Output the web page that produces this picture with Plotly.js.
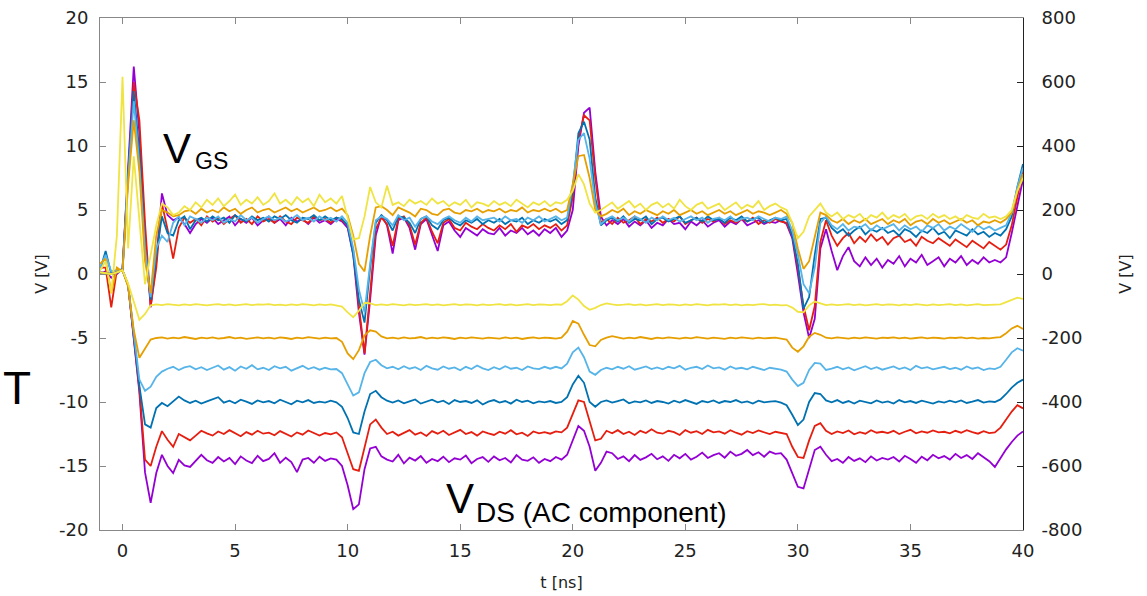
<!DOCTYPE html>
<html>
<head>
<meta charset="utf-8">
<script src="https://cdn.plot.ly/plotly-3.0.1.min.js"></script>
<style>
html,body{margin:0;padding:0;background:#fff;}
#chart{width:1147px;height:596px;}
</style>
</head>
<body>
<div id="chart"></div>
<script>
// time axis [ns]
var t = [
-1,-0.75,-0.5,-0.25,0,0.25,0.5,0.75,1,1.25,
1.5,1.75,2,2.25,2.5,2.75,3,3.25,3.5,3.75,
4,4.25,4.5,4.75,5,5.25,5.5,5.75,6,6.25,
6.5,6.75,7,7.25,7.5,7.75,8,8.25,8.5,8.75,
9,9.25,9.5,9.75,10,10.25,10.5,10.75,11,11.25,
11.5,11.75,12,12.25,12.5,12.75,13,13.25,13.5,13.75,
14,14.25,14.5,14.75,15,15.25,15.5,15.75,16,16.25,
16.5,16.75,17,17.25,17.5,17.75,18,18.25,18.5,18.75,
19,19.25,19.5,19.75,20,20.25,20.5,20.75,21,21.25,
21.5,21.75,22,22.25,22.5,22.75,23,23.25,23.5,23.75,
24,24.25,24.5,24.75,25,25.25,25.5,25.75,26,26.25,
26.5,26.75,27,27.25,27.5,27.75,28,28.25,28.5,28.75,
29,29.25,29.5,29.75,30,30.25,30.5,30.75,31,31.25,
31.5,31.75,32,32.25,32.5,32.75,33,33.25,33.5,33.75,
34,34.25,34.5,34.75,35,35.25,35.5,35.75,36,36.25,
36.5,36.75,37,37.25,37.5,37.75,38,38.25,38.5,38.75,
39,39.25,39.5,39.75,40];

// V_GS [V] (left axis)
var vgsPurple = [
0.0,0.2,-0.3,0.0,0.4,8.0,16.2,11.0,3.0,-2.6,
1.0,6.3,4.6,4.2,4.4,3.9,3.2,3.9,4.3,4.0,
4.4,3.9,4.2,4.5,3.8,4.3,4.0,4.4,3.8,4.2,
4.5,4.0,4.3,3.8,4.4,4.1,4.3,3.9,4.4,4.0,
4.2,3.9,4.3,4.1,3.6,1.5,-3.0,-6.3,-2.0,3.0,
4.6,3.8,1.6,4.2,4.4,3.6,1.9,3.9,4.3,3.0,
1.8,3.8,4.1,3.4,2.9,3.6,3.3,3.0,3.5,3.2,
3.1,3.6,3.0,3.4,3.2,3.6,3.1,3.4,3.0,3.5,
3.2,3.6,2.9,3.4,5.0,10.0,12.6,13.0,8.0,4.5,
3.8,4.2,3.9,4.3,3.7,4.1,3.8,4.2,3.6,4.0,
3.8,4.3,3.9,4.0,3.5,4.1,3.8,4.2,3.7,4.0,
4.2,3.7,4.1,3.9,4.3,3.8,4.0,4.2,3.9,4.1,
4.0,4.2,3.9,2.8,0.0,-3.0,-5.0,-3.5,2.0,3.5,
1.8,0.3,1.4,2.1,1.0,0.6,1.3,0.7,1.2,0.5,
1.1,0.8,1.4,0.6,1.2,0.9,1.5,0.7,1.0,1.3,
0.6,1.2,0.9,1.4,0.7,1.1,0.8,1.3,0.9,1.1,
0.9,1.3,3.2,5.4,7.4];
var vgsRed = [
0.5,0.5,-2.6,0.3,0.3,8.0,15.0,12.0,4.0,-2.5,
0.5,5.5,3.5,1.2,3.6,4.4,4.0,4.3,3.8,4.5,
4.1,4.4,3.9,4.3,4.6,4.0,4.3,3.9,4.5,4.1,
4.3,4.0,4.5,4.1,3.9,4.4,4.2,4.0,4.5,4.2,
4.3,4.0,4.4,4.2,3.8,1.8,-2.5,-6.2,-1.5,3.5,
4.4,3.9,2.2,4.3,4.5,3.8,2.3,4.0,4.4,3.3,
2.4,4.0,4.3,3.6,3.4,4.0,3.7,3.5,3.9,3.6,
3.4,3.8,3.5,3.9,3.3,3.8,3.6,3.9,3.5,3.8,
3.6,3.9,3.4,3.8,6.0,10.5,12.4,12.0,7.5,4.0,
4.3,3.9,4.4,4.0,4.2,4.5,3.9,4.3,4.1,4.4,
4.0,4.3,4.1,4.5,3.9,4.2,4.4,4.0,4.3,4.1,
4.4,3.9,4.2,4.0,4.3,4.1,4.4,3.9,4.2,4.0,
4.3,4.1,4.0,3.0,0.5,-2.5,-4.4,-2.5,2.5,4.2,
3.0,2.2,2.8,3.2,2.4,2.9,2.5,3.1,2.6,2.9,
2.3,2.8,3.0,2.5,2.7,2.2,2.9,2.6,2.4,2.8,
2.5,2.2,2.7,2.4,2.1,2.6,2.3,2.0,2.5,2.2,
1.9,2.3,3.8,6.0,8.2];
var vgsBlue = [
0.3,1.8,0.0,0.2,0.4,8.0,14.3,9.5,2.0,-2.0,
1.5,4.5,3.2,3.0,4.2,4.5,3.5,4.2,4.4,4.1,
4.5,4.2,4.4,4.0,4.6,4.3,4.1,4.5,4.2,4.4,
4.1,4.5,4.3,4.6,4.2,4.0,4.4,4.3,4.6,4.2,
4.5,4.2,4.4,4.3,3.8,1.5,-2.0,-3.8,0.5,4.0,
4.6,4.2,3.4,4.5,4.4,4.0,3.2,4.3,4.5,3.8,
3.5,4.2,4.4,4.0,3.8,4.2,4.0,4.3,3.9,4.2,
4.0,4.3,3.9,4.2,4.1,4.4,3.9,4.2,4.0,4.3,
4.1,4.3,3.9,4.2,6.5,11.0,11.9,10.5,6.0,3.8,
4.2,4.4,4.1,4.5,4.0,4.3,4.2,4.5,3.9,4.3,
4.4,4.1,4.3,4.5,4.0,4.2,4.4,4.1,4.5,4.2,
4.3,4.0,4.4,4.2,4.5,4.1,4.3,4.4,4.0,4.2,
4.4,4.2,4.3,3.0,0.8,-2.7,-1.8,1.5,4.3,4.4,
3.6,3.2,3.5,3.0,3.4,3.7,3.1,3.5,3.3,3.6,
3.2,3.4,3.0,3.5,3.3,2.9,3.4,3.2,3.6,3.1,
3.3,2.8,3.4,3.2,3.0,3.5,3.1,3.3,2.9,3.2,
3.0,3.5,4.5,6.8,8.6];
var vgsLightBlue = [
0.5,1.5,0.2,0.3,0.3,7.5,13.5,8.5,2.0,-1.8,
2.0,3.0,2.5,4.0,4.5,3.8,4.5,4.3,4.0,4.4,
4.2,4.5,4.0,4.3,4.1,4.6,4.2,4.4,4.0,4.3,
4.5,4.2,4.4,4.1,4.3,4.6,4.2,4.4,4.1,4.5,
4.2,4.4,4.1,4.5,4.0,2.0,-1.2,-3.0,0.8,4.2,
4.5,4.3,3.8,4.6,4.2,4.4,3.7,4.3,4.5,4.1,
3.9,4.3,4.5,4.2,4.0,4.4,4.1,4.5,4.2,4.3,
4.4,4.1,4.5,4.2,4.3,4.0,4.4,4.2,4.5,4.1,
4.3,4.5,4.2,4.4,7.0,10.5,11.0,9.0,5.5,3.9,
4.3,4.5,4.2,4.4,4.1,4.5,4.3,4.0,4.4,4.2,
4.5,4.2,4.4,4.1,4.3,4.5,4.2,4.4,4.0,4.3,
4.4,4.2,4.5,4.1,4.3,4.4,4.2,4.5,4.3,4.1,
4.4,4.3,4.5,3.4,1.5,-0.8,-1.5,0.5,4.0,4.5,
3.8,3.5,3.9,3.4,3.7,3.6,3.9,3.4,3.8,3.5,
3.7,3.9,3.4,3.8,3.5,3.7,3.3,3.8,3.6,3.9,
3.4,3.7,3.5,3.9,3.6,3.3,3.8,3.5,3.7,3.4,
3.6,3.8,4.8,6.8,8.3];
var vgsOrange = [
0.8,1.2,-1.5,0.5,0.2,7.0,12.0,8.0,1.0,-1.5,
3.0,5.0,4.8,4.5,4.6,4.9,5.0,4.7,5.1,4.8,
5.0,4.8,5.2,4.9,5.1,4.7,5.0,5.2,4.8,5.0,
5.1,4.8,5.0,5.2,4.9,5.1,4.8,5.0,5.2,4.9,
5.0,5.2,4.9,5.1,4.6,3.0,0.8,0.2,3.0,5.2,
5.3,5.0,4.6,5.2,5.0,4.8,4.5,5.1,5.0,4.7,
4.6,5.0,5.1,4.8,4.7,5.0,4.9,5.1,4.8,5.0,
4.9,5.1,4.8,5.0,4.9,5.2,4.8,5.0,4.9,5.1,
4.9,5.1,4.8,5.0,7.0,9.2,9.3,7.5,5.0,4.5,
4.7,5.0,4.8,5.1,4.6,4.9,4.7,5.0,4.8,4.6,
4.9,4.7,5.0,4.6,4.8,5.0,4.7,4.9,4.6,4.8,
5.0,4.7,4.9,4.6,4.8,5.0,4.7,4.9,4.8,4.6,
4.8,5.0,4.7,4.0,2.0,0.4,1.0,3.0,4.8,4.6,
4.2,4.0,4.3,3.9,4.2,4.0,4.3,3.9,4.1,4.3,
3.9,4.2,4.0,4.3,3.8,4.1,4.2,3.9,4.3,4.0,
4.2,3.9,4.1,4.3,4.0,4.2,3.8,4.1,4.0,4.2,
4.0,4.3,4.8,6.5,7.8];
var vgsYellow = [
0.3,1.0,-1.5,3.0,15.4,2.0,9.2,4.0,-0.8,1.5,
3.8,5.5,5.2,4.6,4.8,5.3,5.0,5.6,5.2,5.8,
5.4,5.9,5.3,5.7,6.2,5.4,5.8,5.5,6.0,5.4,
5.7,6.3,5.5,5.8,5.4,6.0,5.6,5.9,5.3,6.2,
5.6,5.9,5.5,6.1,4.5,2.7,2.8,4.5,6.8,5.6,
5.2,6.9,5.4,5.6,5.3,5.8,5.5,5.7,5.4,5.9,
5.5,5.7,5.3,5.6,5.4,5.8,5.2,5.6,5.5,5.3,
5.7,5.4,5.6,5.3,5.8,5.5,5.2,5.6,5.4,5.7,
5.3,5.6,5.5,5.8,6.5,7.8,7.0,5.5,4.8,5.0,
5.3,5.6,5.1,5.4,5.7,5.2,5.5,5.0,5.4,5.6,
5.2,5.5,5.1,5.8,5.3,5.0,5.4,5.6,5.1,5.3,
5.5,5.0,5.3,5.6,5.1,5.4,5.2,5.7,5.0,5.3,
5.5,5.2,5.0,4.0,2.8,3.3,4.5,5.0,5.5,4.8,
4.5,4.8,4.3,4.6,4.4,4.7,4.2,4.6,4.4,4.8,
4.3,4.6,4.4,4.7,4.2,4.5,4.6,4.3,4.7,4.4,
4.6,4.3,4.5,4.2,4.6,4.4,4.3,4.7,4.4,4.5,
4.3,4.5,5.0,6.5,7.5];

// V_DS AC component, offset per curve [V] (right axis)
var vdsYellow = [
5,3,0,5,12,-30,-90,-143,-125,-98,
-95,-97,-94,-96,-98,-95,-97,-94,-96,-98,
-96,-94,-97,-95,-98,-96,-94,-97,-95,-96,
-94,-97,-96,-98,-95,-97,-94,-96,-98,-95,
-97,-95,-98,-102,-120,-135,-115,-90,-92,-97,
-95,-97,-94,-96,-98,-95,-97,-96,-94,-97,
-95,-98,-96,-94,-97,-95,-96,-98,-95,-97,
-96,-94,-97,-95,-98,-96,-94,-97,-95,-96,
-97,-95,-96,-85,-67,-80,-100,-112,-106,-97,
-92,-95,-97,-96,-94,-97,-95,-98,-96,-94,
-97,-95,-96,-98,-95,-97,-94,-96,-98,-95,
-96,-94,-97,-95,-98,-96,-97,-95,-94,-97,
-96,-98,-97,-105,-118,-120,-98,-86,-92,-97,
-95,-97,-96,-94,-97,-95,-98,-96,-94,-97,
-95,-96,-98,-95,-97,-94,-96,-98,-95,-97,
-96,-94,-97,-95,-98,-96,-94,-97,-96,-97,
-95,-88,-80,-74,-78];
var vdsOrange = [
5,3,0,5,12,-40,-175,-262,-235,-205,
-200,-198,-202,-199,-201,-197,-200,-203,-199,-201,
-198,-202,-200,-197,-201,-199,-203,-200,-198,-201,
-199,-202,-198,-200,-203,-199,-201,-197,-200,-202,
-199,-201,-200,-212,-248,-266,-238,-192,-176,-180,
-195,-201,-199,-202,-198,-201,-200,-197,-202,-199,
-201,-198,-200,-203,-199,-201,-198,-200,-202,-199,
-200,-202,-198,-201,-199,-203,-200,-198,-201,-199,
-200,-202,-199,-180,-147,-155,-190,-222,-226,-206,
-199,-194,-198,-202,-199,-201,-197,-200,-203,-199,
-201,-198,-200,-202,-199,-201,-197,-200,-202,-199,
-200,-203,-199,-201,-198,-200,-202,-199,-201,-200,
-199,-202,-205,-230,-243,-226,-196,-184,-190,-199,
-201,-198,-200,-202,-199,-201,-198,-200,-202,-199,
-200,-198,-201,-199,-202,-200,-198,-201,-199,-200,
-202,-199,-200,-198,-201,-199,-202,-200,-201,-199,
-197,-185,-170,-162,-172];
var vdsLightBlue = [
5,3,0,5,12,-35,-190,-330,-365,-352,
-321,-305,-296,-290,-300,-292,-288,-298,-291,-300,
-293,-286,-299,-291,-302,-289,-296,-285,-298,-293,
-300,-288,-295,-290,-302,-294,-287,-297,-291,-299,
-293,-298,-297,-310,-345,-380,-370,-310,-275,-268,
-285,-295,-290,-298,-288,-296,-291,-300,-287,-295,
-299,-289,-296,-292,-301,-290,-297,-286,-295,-300,
-291,-298,-288,-296,-293,-300,-289,-295,-297,-290,
-296,-290,-295,-280,-245,-230,-260,-305,-315,-300,
-293,-298,-290,-296,-288,-299,-294,-289,-297,-292,
-298,-290,-295,-287,-299,-293,-290,-297,-286,-295,
-292,-299,-289,-296,-293,-298,-290,-295,-300,-293,
-296,-299,-305,-330,-350,-340,-300,-278,-280,-300,
-296,-290,-298,-292,-301,-294,-288,-297,-291,-299,
-293,-289,-297,-292,-300,-287,-295,-291,-298,-294,
-290,-297,-293,-299,-289,-296,-292,-300,-295,-297,
-290,-268,-245,-232,-240];
var vdsBlue = [
5,3,0,5,12,-35,-195,-350,-470,-480,
-419,-403,-413,-398,-383,-395,-403,-396,-405,-398,
-392,-385,-402,-396,-404,-393,-399,-406,-395,-401,
-397,-404,-393,-400,-407,-396,-401,-394,-403,-399,
-402,-396,-401,-415,-450,-495,-500,-430,-375,-365,
-385,-396,-402,-395,-404,-398,-392,-405,-399,-393,
-401,-396,-406,-394,-400,-397,-403,-395,-408,-399,
-394,-402,-397,-405,-393,-400,-396,-404,-398,-401,
-397,-403,-400,-385,-345,-318,-340,-400,-415,-400,
-395,-402,-397,-392,-404,-398,-401,-395,-403,-397,
-400,-405,-396,-402,-394,-399,-406,-397,-401,-395,
-403,-397,-400,-394,-402,-398,-405,-396,-401,-399,
-397,-402,-410,-440,-472,-455,-400,-372,-375,-395,
-401,-394,-403,-397,-405,-396,-400,-404,-395,-402,
-398,-405,-394,-401,-397,-403,-396,-400,-405,-398,
-402,-396,-401,-395,-403,-399,-394,-402,-398,-400,
-392,-375,-355,-340,-330];
var vdsRed = [
5,3,0,5,12,-35,-200,-360,-580,-600,
-540,-491,-518,-540,-500,-510,-520,-505,-490,-498,
-505,-492,-500,-488,-498,-507,-494,-502,-490,-499,
-496,-504,-491,-500,-508,-495,-502,-489,-498,-505,
-497,-501,-495,-510,-560,-610,-615,-540,-470,-455,
-480,-500,-493,-505,-497,-488,-502,-495,-506,-491,
-499,-490,-503,-496,-487,-500,-494,-505,-492,-498,
-503,-493,-499,-488,-501,-496,-506,-492,-498,-494,
-499,-492,-495,-480,-440,-395,-400,-460,-520,-515,
-490,-498,-488,-500,-493,-503,-490,-497,-485,-496,
-499,-490,-494,-503,-488,-496,-491,-500,-487,-495,
-492,-499,-488,-496,-502,-491,-497,-489,-494,-500,
-493,-497,-500,-540,-572,-575,-520,-475,-466,-490,
-500,-492,-497,-489,-501,-494,-499,-488,-496,-493,
-497,-490,-500,-493,-487,-498,-492,-496,-489,-495,
-493,-498,-490,-496,-488,-494,-499,-491,-497,-495,
-480,-455,-430,-410,-420];
var vdsPurple = [
5,3,0,5,12,-35,-200,-370,-620,-715,
-622,-565,-600,-622,-581,-598,-603,-584,-565,-582,
-590,-572,-586,-575,-594,-570,-583,-591,-568,-585,
-578,-560,-590,-574,-588,-619,-580,-575,-590,-571,
-584,-576,-580,-600,-660,-735,-720,-610,-545,-540,
-570,-580,-586,-565,-592,-574,-583,-569,-590,-578,
-585,-571,-588,-576,-580,-567,-591,-578,-572,-587,
-570,-582,-575,-589,-566,-580,-584,-573,-590,-578,
-585,-572,-580,-565,-520,-475,-490,-540,-615,-590,
-555,-560,-578,-570,-585,-566,-581,-573,-562,-579,
-570,-584,-565,-576,-562,-580,-571,-558,-575,-566,
-560,-574,-555,-568,-562,-550,-566,-557,-571,-555,
-562,-560,-580,-620,-665,-670,-610,-550,-540,-565,
-585,-578,-590,-572,-584,-576,-588,-570,-583,-575,
-580,-572,-586,-568,-578,-590,-571,-582,-565,-576,
-569,-580,-562,-575,-566,-578,-560,-572,-585,-603,
-575,-548,-525,-505,-492];

// tick labels
var xTickVals = [0,5,10,15,20,25,30,35,40];
var xTickText = ["0","5","10","15","20","25","30","35","40"];
var yTickVals = [-20,-15,-10,-5,0,5,10,15,20];
var yTickText = ["-20","-15","-10","-5","0","5","10","15","20"];
var y2TickVals = [-800,-600,-400,-200,0,200,400,600,800];
var y2TickText = ["-800","-600","-400","-200","0","200","400","600","800"];

var colors = {
  purple: "#9400d3", red: "#e51e10", blue: "#0072b2",
  lightblue: "#56b4e9", orange: "#e69f00", yellow: "#f0e442"
};

function tr(y, c, axis) {
  return {x: t, y: y, type: "scatter", mode: "lines", yaxis: axis,
    line: {color: c, width: 1.8}, hoverinfo: "skip", showlegend: false};
}

var data = [
  tr(vdsPurple, colors.purple, "y2"),
  tr(vdsRed, colors.red, "y2"),
  tr(vdsBlue, colors.blue, "y2"),
  tr(vdsLightBlue, colors.lightblue, "y2"),
  tr(vdsOrange, colors.orange, "y2"),
  tr(vdsYellow, colors.yellow, "y2"),
  tr(vgsPurple, colors.purple, "y"),
  tr(vgsRed, colors.red, "y"),
  tr(vgsBlue, colors.blue, "y"),
  tr(vgsLightBlue, colors.lightblue, "y"),
  tr(vgsOrange, colors.orange, "y"),
  tr(vgsYellow, colors.yellow, "y")
];

var tickFont = {family: "DejaVu Sans", size: 18, color: "#222"};
var titleFont = {family: "DejaVu Sans", size: 16, color: "#222"};
var annFont = "Liberation Sans, Arial, sans-serif";

var layout = {
  width: 1147, height: 596,
  margin: {l: 100, r: 124, t: 18, b: 66},
  paper_bgcolor: "#fff", plot_bgcolor: "#fff",
  showlegend: false,
  xaxis: {
    range: [-1, 40], tickmode: "array", tickvals: xTickVals, ticktext: xTickText,
    ticks: "inside", ticklen: 6, tickcolor: "#888", tickwidth: 1,
    showline: true, linecolor: "#888", linewidth: 1, mirror: "ticks",
    showgrid: false, zeroline: false, tickfont: tickFont, ticklabelstandoff: 4,
    title: {text: "t [ns]", font: titleFont, standoff: 17}
  },
  yaxis: {
    range: [-20, 20], tickmode: "array", tickvals: yTickVals, ticktext: yTickText,
    ticks: "inside", ticklen: 6, tickcolor: "#888", tickwidth: 1,
    showline: true, linecolor: "#888", linewidth: 1, mirror: true,
    showgrid: false, zeroline: false, tickfont: tickFont, ticklabelstandoff: 7,
    title: {text: "V [V]", font: titleFont, standoff: 7}
  },
  yaxis2: {
    range: [-800, 800], overlaying: "y", side: "right",
    tickmode: "array", tickvals: y2TickVals, ticktext: y2TickText,
    ticks: "inside", ticklen: 6, tickcolor: "#222", tickwidth: 1,
    showline: true, linecolor: "#222", linewidth: 1,
    showgrid: false, zeroline: false, tickfont: tickFont, ticklabelstandoff: 14,
    title: {text: "V [V]", font: titleFont, standoff: 38}
  },
  annotations: [
    {xref: "paper", yref: "paper", x: (177 - 100) / 923, y: (530 - 148) / 512,
     xanchor: "center", yanchor: "middle", text: "V", showarrow: false,
     font: {family: annFont, size: 42, color: "#000"}},
    {xref: "paper", yref: "paper", x: (193 - 100) / 923, y: (530 - 161) / 512,
     xanchor: "left", yanchor: "middle", text: "GS", showarrow: false,
     font: {family: annFont, size: 23, color: "#000"}},
    {xref: "paper", yref: "paper", x: (460 - 100) / 923, y: (530 - 498) / 512,
     xanchor: "center", yanchor: "middle", text: "V", showarrow: false,
     font: {family: annFont, size: 42, color: "#000"}},
    {xref: "paper", yref: "paper", x: (474 - 100) / 923, y: (530 - 512) / 512,
     xanchor: "left", yanchor: "middle", text: "DS (AC component)", showarrow: false,
     font: {family: annFont, size: 28, color: "#000"}},
    {xref: "paper", yref: "paper", x: (1 - 100) / 923, y: (530 - 388) / 512,
     xanchor: "left", yanchor: "middle", text: "T", showarrow: false,
     font: {family: annFont, size: 46, color: "#000"}}
  ]
};

Plotly.newPlot("chart", data, layout, {staticPlot: true, displayModeBar: false});
</script>
</body>
</html>
